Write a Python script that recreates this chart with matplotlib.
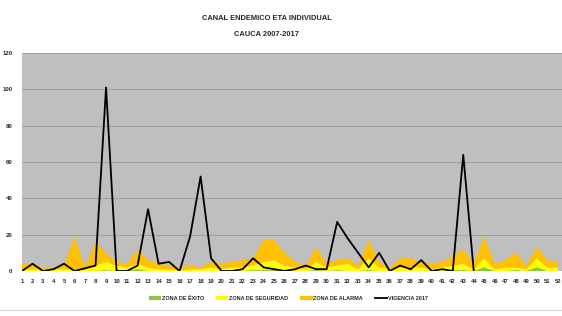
import matplotlib
matplotlib.use("Agg")
import matplotlib.pyplot as plt
import numpy as np

weeks = list(range(1, 53))
exito = [0, 0, 0, 0, 0, 0, 0, 0, 0.5, 0, 0, 1, 0, 0, 0, 0, 0, 0, 0, 0,
         0, 0, 0.5, 0.5, 0.5, 0, 0, 0, 0.5, 0, 0.5, 0, 0, 0.5, 0, 0, 0, 0, 0, 0,
         0, 0.5, 0.5, 0, 2, 0, 0, 0.5, 0, 2, 0, 0]
seguridad_top = [1, 1, 1, 1, 1, 1, 1, 3, 5, 3, 2, 4, 2, 1, 1, 0.5, 1, 1, 2, 1,
                 2, 2, 3, 5, 6, 3, 2, 1, 5, 2, 3, 4, 1, 7, 2, 1, 2, 2, 2, 1,
                 2, 3, 4, 1, 7, 1, 2, 2, 1, 7, 2, 2]
alarma_top = [4, 4, 2, 2, 3, 19, 2, 16, 10, 5, 4, 12, 6, 4, 3, 2, 3, 2, 5, 4,
              5, 6, 7, 17, 17, 10, 5, 3, 13, 4, 6, 7, 3, 17, 5, 2, 7, 7, 5, 4,
              5, 8, 12, 4, 19, 4, 6, 10, 3, 13, 6, 5]
vigencia_2017 = [0, 4, 0, 1, 4, 0, 1.5, 3, 101, 0, 0, 3, 34, 4, 5, 0, 19, 52, 7, 0,
                 0, 1, 7, 2, 1, 0, 1, 3, 1, 1, 27, 18, 10, 2, 10, 0, 3, 1, 6, 0,
                 1, 0, 64, 0] + [np.nan] * 8

seguridad = [max(s - e, 0) for s, e in zip(seguridad_top, exito)]
alarma = [max(a - s, 0) for a, s in zip(alarma_top, seguridad_top)]

plt.rcParams['font.family'] = ['Liberation Sans Narrow', 'Liberation Sans', 'DejaVu Sans']

fig = plt.figure(figsize=(5.62, 3.16), dpi=100)
ax = fig.add_axes([22/562, 1-271/316, 540/562, (271-53)/316])
ax.set_facecolor('#BFBFBF')

ax.stackplot(weeks, exito, seguridad, alarma,
             colors=['#8CC63F', '#FFFF00', '#FFC000'],
             labels=['ZONA DE ÉXITO', 'ZONA DE SEGURIDAD', 'ZONA DE ALARMA'],
             linewidth=0)
ax.plot(weeks, vigencia_2017, color='black', linewidth=1.3, label='VIGENCIA 2017')

ax.set_xlim(1, 52.4)
ax.set_ylim(0, 120)
ax.set_yticks(range(0, 121, 20))
ax.set_xticks(weeks)
ax.set_xticklabels([str(w) for w in weeks])
ax.grid(axis='y', color='#999999', linewidth=0.6)
ax.set_axisbelow(True)
for s in ax.spines.values():
    s.set_visible(False)
ax.tick_params(axis='both', length=0, labelsize=4.3, colors='#262626')
for t in ax.get_xticklabels() + ax.get_yticklabels():
    t.set_fontweight('bold')
ax.tick_params(axis='x', pad=6)
ax.tick_params(axis='y', pad=7)

fig.text(0.475, 1-18/316, 'CANAL ENDEMICO ETA INDIVIDUAL', ha='center', va='center',
         fontsize=5.4, color='#262626', fontweight='bold')
fig.text(0.475, 1-35/316, 'CAUCA 2007-2017', ha='center', va='center',
         fontsize=5.4, color='#262626', fontweight='bold')

h, l = ax.get_legend_handles_labels()
idx = [l.index(n) for n in ['ZONA DE ÉXITO', 'ZONA DE SEGURIDAD', 'ZONA DE ALARMA', 'VIGENCIA 2017']]
leg = fig.legend([h[i] for i in idx], [l[i] for i in idx], loc='center',
                 bbox_to_anchor=(0.513, 1-298/316), ncol=4,
                 frameon=False, fontsize=4.0, handlelength=2.2, handleheight=0.7,
                 columnspacing=2.2, handletextpad=0.1)
for t in leg.get_texts():
    t.set_fontweight('bold')
    t.set_color('#262626')

fig.add_artist(plt.Line2D([0, 1], [1-310/316, 1-310/316], color='#D9D9D9', linewidth=0.8))

fig.savefig('out.png', dpi=100, facecolor='white')
